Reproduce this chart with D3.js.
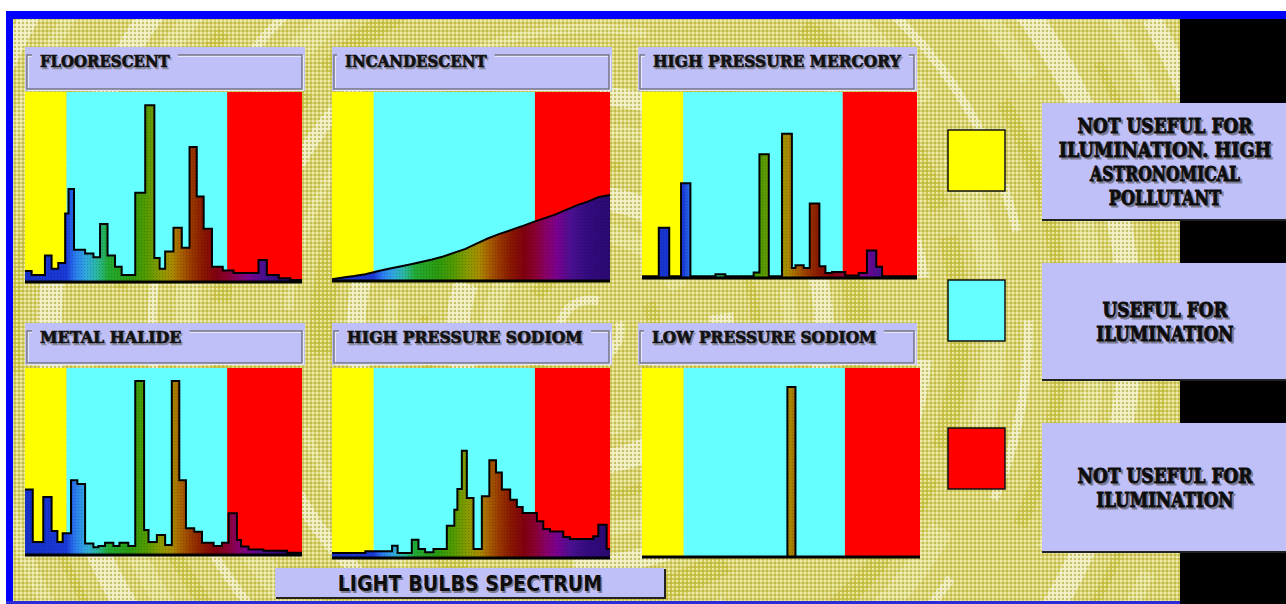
<!DOCTYPE html>
<html>
<head>
<meta charset="utf-8">
<script src="https://cdn.jsdelivr.net/npm/d3@7"></script>
<style>
  html, body { margin: 0; padding: 0; background: #ffffff; overflow: hidden; }
  svg { display: block; }
</style>
</head>
<body>
<svg id="chart" width="1286" height="604"></svg>
<script>
// ---------------- DATA ----------------
const lampNames = ["FLOORESCENT", "INCANDESCENT", "HIGH PRESSURE MERCORY",
                   "METAL HALIDE", "HIGH PRESSURE SODIOM", "LOW PRESSURE SODIOM"];

// spectral bands (position across the visible range, %)
const bandEdges  = [0, 15, 73, 100];
const bandColors = ["#ffff00", "#66ffff", "#ff0000"];

// legend
const legendColors = ["#ffff00", "#66ffff", "#ff0000"];
const legendLines = [
  ["NOT USEFUL FOR", "ILUMINATION. HIGH", "ASTRONOMICAL", "POLLUTANT"],
  ["USEFUL FOR", "ILUMINATION"],
  ["NOT USEFUL FOR", "ILUMINATION"]
];
const chartTitle = "LIGHT BULBS SPECTRUM";

// spectra: step start positions (%) and relative intensity (%)
const fluorescentX = [0, 2.4, 7.2, 9.6, 12.0, 14.5, 15.7, 17.7, 21.7, 24.7, 27.1, 29.8, 32.5, 34.9, 39.8, 43.4,
                      46.7, 48.6, 50.6, 53.6, 56.6, 59.4, 62.0, 64.5, 67.5, 71.4, 75.3, 84.3, 87.3, 91.6, 95.8];
const fluorescentY = [5.8, 3.7, 14, 7, 10, 36, 49, 17, 15, 13, 30.5, 14, 8, 3.7, 47, 93,
                      12.6, 7, 16, 28.5, 18, 71, 45, 28, 8, 6, 4.7, 11.6, 3.7, 2, 1];

const incandescentX = [0, 4, 8, 12, 16, 20, 24, 28, 32, 36, 40, 44, 48, 52, 56, 60, 64, 68, 72, 76, 80, 84, 88, 92, 96, 100];
const incandescentY = [0.9, 1.8, 2.6, 3.6, 5.0, 6.3, 7.5, 8.7, 10.0, 11.4, 13.0, 15.0, 17.0, 19.8, 22.5, 24.8,
                       26.8, 28.8, 31.0, 33.0, 35.0, 37.5, 40.0, 42.0, 44.5, 45.5];

const mercuryX = [0, 6.1, 9.9, 14.2, 17.6, 26.7, 30.3, 40.6, 42.7, 46.1, 50.9, 54.5, 55.8, 58.8, 61.0, 64.5,
                  66.7, 69.1, 73.9, 78.8, 81.8, 85.2, 87.3];
const mercuryY = [1, 27, 1, 51, 1, 2, 1, 3, 66.5, 1, 77.5, 5.4, 6.8, 5.4, 40, 6.3,
                  2.7, 3.2, 1.4, 2.7, 14.8, 6, 1];

const halideX = [0, 2.8, 6.6, 9.6, 11.7, 13.6, 16.6, 18.9, 21.7, 24.7, 26.5, 28.9, 31.9, 34.1, 37.3, 39.8,
                 43.0, 44.6, 47.6, 50.6, 53.0, 55.7, 58.1, 61.1, 63.9, 68.1, 71.1, 73.5, 76.5, 78.0, 80.7, 86.1, 94.6];
const halideY = [35, 7, 31, 12.8, 7, 11.6, 40, 38, 6.2, 4.1, 4.8, 6.6, 4.8, 6.6, 4.8, 93,
                 13.4, 7, 10.7, 5.3, 93, 40, 14.3, 12.5, 6.6, 4.8, 6.6, 22.3, 8, 4.5, 3, 2.3, 1.2];

const hpsX = [0, 12.0, 21.6, 23.6, 28.7, 31.1, 33.5, 36.5, 41.3, 44.0, 45.1, 46.7, 48.5, 50.9, 53.9, 56.6,
              59.0, 61.1, 64.1, 66.5, 68.6, 73.7, 76.0, 78.4, 83.2, 85.6, 94.0, 95.8, 98.8];
const hpsY = [2.6, 3.5, 6.5, 2.6, 9.6, 4.7, 3, 4.7, 17, 25.4, 36.3, 56.5, 31.6, 4.7, 32.5, 51.4,
              45, 36, 30.7, 26.8, 23.7, 19.3, 15.3, 14, 11, 10, 11.4, 17.5, 4.7];

const lpsX = [0, 52.3, 55.2];
const lpsY = [0, 90, 0];

const seriesX = [fluorescentX, incandescentX, mercuryX, halideX, hpsX, lpsX];
const seriesY = [fluorescentY, incandescentY, mercuryY, halideY, hpsY, lpsY];
const seriesSmooth = [false, true, false, false, false, false];

// rainbow used to fill the spectra (offset %, colour)
const rainbowStops = [
  [0, "#1530c8"], [15, "#1a3ad8"], [18, "#2a7af0"], [22, "#30a8e0"], [26, "#2ab8a0"],
  [30, "#22aa33"], [38, "#2a9a10"], [44, "#559a00"], [49, "#8a9a00"], [53, "#a88a00"],
  [56, "#a86400"], [60, "#993a00"], [64, "#8a1a00"], [69, "#800010"], [73, "#8a0030"],
  [77, "#880068"], [81, "#7a0090"], [86, "#4a1090"], [92, "#330a80"], [100, "#2a0a70"]
];

// ---------------- LAYOUT ----------------
const W = 1286, H = 604;
const plots = [
  {x: 25,  y: 92,  w: 277, h: 190},
  {x: 332, y: 92,  w: 278, h: 189},
  {x: 642, y: 92,  w: 275, h: 186},
  {x: 25,  y: 368, w: 277, h: 187},
  {x: 332, y: 368, w: 278, h: 190},
  {x: 642, y: 368, w: 278, h: 189}
];
const headers = [
  {x: 25,  y: 47,  w: 280, h: 44, tx: 40},
  {x: 332, y: 47,  w: 280, h: 44, tx: 345},
  {x: 638, y: 47,  w: 279, h: 44, tx: 653},
  {x: 25,  y: 323, w: 280, h: 42, tx: 40},
  {x: 332, y: 323, w: 280, h: 42, tx: 347},
  {x: 638, y: 323, w: 279, h: 42, tx: 652}
];
const legendBoxes = [{y: 103, h: 117}, {y: 263, h: 117}, {y: 423, h: 129}];
const legendSquares = [130, 280, 428];
const blackBlocks = [{y: 19, h: 84}, {y: 220, h: 43}, {y: 380, h: 43}, {y: 552, h: 52}];

const LAV = "#c0c0f8";

const svg = d3.select("#chart");
const defs = svg.append("defs");

// draw a text squeezed horizontally to a target width (via transform, so its box is exact)
function fittedText(parent, str, x, y, target, anchor, font, size, fill, strokeW) {
  const t = parent.append("text")
    .attr("font-family", font).attr("font-weight", "bold").attr("font-size", size)
    .attr("text-anchor", anchor).attr("fill", fill)
    .attr("stroke", strokeW ? fill : null).attr("stroke-width", strokeW || null)
    .text(str);
  const nat = t.node().getComputedTextLength() || target;
  const s = Math.min(1, target / nat);
  t.attr("transform", `translate(${x},${y}) scale(${s},1)`);
  return t;
}

// dotted texture for the background
const pat = defs.append("pattern").attr("id", "dots").attr("width", 4).attr("height", 4)
  .attr("patternUnits", "userSpaceOnUse");
pat.append("circle").attr("cx", 1).attr("cy", 1).attr("r", 0.9).attr("fill", "#f8f6d0");
pat.append("circle").attr("cx", 3).attr("cy", 3).attr("r", 0.9).attr("fill", "#b8b038");

const pat2 = defs.append("pattern").attr("id", "fine").attr("width", 3).attr("height", 3)
  .attr("patternUnits", "userSpaceOnUse");
pat2.append("rect").attr("x", 0).attr("y", 0).attr("width", 1).attr("height", 1).attr("fill", "#000").attr("opacity", 0.18);

const clip = defs.append("clipPath").attr("id", "bgclip");
clip.append("rect").attr("x", 13).attr("y", 19).attr("width", W - 13).attr("height", H - 19 - 3);

// ---------------- BACKGROUND ----------------
svg.append("rect").attr("width", W).attr("height", H).attr("fill", "#ffffff");
const bg = svg.append("g").attr("clip-path", "url(#bgclip)");
bg.append("rect").attr("x", 13).attr("y", 19).attr("width", W - 13).attr("height", H - 19)
  .attr("fill", "#d8d270");
// swirl rings
const ringRadii = d3.range(30, 900, 34);
bg.selectAll("circle.ring").data(ringRadii).join("circle")
  .attr("class", "ring")
  .attr("cx", 590).attr("cy", 330)
  .attr("r", d => d)
  .attr("fill", "none")
  .attr("stroke", (d, i) => i % 3 === 0 ? "#f7f5e2" : (i % 3 === 1 ? "#cbc240" : "#e6e29c"))
  .attr("stroke-width", (d, i) => 9 + (i % 4) * 5)
  .attr("stroke-dasharray", (d, i) => `${60 + i * 17} ${30 + (i % 5) * 30}`)
  .attr("stroke-dashoffset", (d, i) => i * 37)
  .attr("opacity", 0.7);
bg.append("rect").attr("x", 13).attr("y", 19).attr("width", W - 13).attr("height", H - 19)
  .attr("fill", "url(#dots)");

// blue frame
svg.append("rect").attr("x", 6).attr("y", 11).attr("width", W - 6).attr("height", 8).attr("fill", "#0000ff");
svg.append("rect").attr("x", 6).attr("y", 11).attr("width", 7).attr("height", H - 11).attr("fill", "#0000ff");
svg.append("rect").attr("x", 6).attr("y", H - 3).attr("width", W - 6).attr("height", 3).attr("fill", "#2a2ad8");

// black blocks on the right
svg.selectAll("rect.black").data(blackBlocks).join("rect").attr("class", "black")
  .attr("x", 1180).attr("y", d => d.y).attr("width", W - 1180).attr("height", d => d.h)
  .attr("fill", "#000");

// ---------------- PANELS ----------------
lampNames.forEach((name, i) => {
  const p = plots[i], hd = headers[i];
  const g = svg.append("g");

  // header box
  g.append("rect").attr("x", hd.x).attr("y", hd.y).attr("width", hd.w).attr("height", hd.h).attr("fill", LAV);
  // etched group frame
  const fx0 = hd.x + 2, fx1 = hd.x + hd.w - 3, fy0 = hd.y + 8, fy1 = hd.y + hd.h - 2;
  g.append("rect").attr("x", fx0 + 1).attr("y", fy0 + 1).attr("width", fx1 - fx0).attr("height", fy1 - fy0)
    .attr("fill", "none").attr("stroke", "#ffffff").attr("stroke-width", 1.2);
  g.append("rect").attr("x", fx0).attr("y", fy0).attr("width", fx1 - fx0).attr("height", fy1 - fy0)
    .attr("fill", "none").attr("stroke", "#6e6e80").attr("stroke-width", 1.4);
  const tLen = name.length * 11.8;
  g.append("rect").attr("x", hd.tx - 8).attr("y", fy0 - 2).attr("width", tLen + 16).attr("height", 5).attr("fill", LAV);
  // title with shadow
  [["#8a8aa0", 1.5], ["#111111", 0]].forEach(([c, o]) => {
    fittedText(g, name, hd.tx + o, hd.y + 20 + o, tLen, "start",
      "DejaVu Serif, Liberation Serif, serif", 16.5, c, 0.7);
  });

  // scales
  const x = d3.scaleLinear().domain([0, 100]).range([p.x, p.x + p.w]);
  const y = d3.scaleLinear().domain([0, 100]).range([p.y + p.h, p.y]);

  // bands
  const bands = bandColors.map((c, k) => ({c, a: bandEdges[k], b: bandEdges[k + 1]}));
  g.selectAll("rect.band").data(bands).join("rect").attr("class", "band")
    .attr("x", d => x(d.a)).attr("y", y(100)).attr("width", d => x(d.b) - x(d.a))
    .attr("height", y(0) - y(100)).attr("fill", d => d.c);

  // gradient for this panel
  const grad = defs.append("linearGradient").attr("id", "rb" + i)
    .attr("gradientUnits", "userSpaceOnUse")
    .attr("x1", x(0)).attr("x2", x(100)).attr("y1", 0).attr("y2", 0);
  grad.selectAll("stop").data(rainbowStops).join("stop")
    .attr("offset", d => d[0] + "%").attr("stop-color", d => d[1]);

  // spectrum
  const xs = seriesX[i], ys = seriesY[i];
  const pts = xs.map((v, k) => ({x: v, y: ys[k]}));
  if (!seriesSmooth[i]) pts.push({x: 100, y: ys[ys.length - 1]});
  const area = d3.area().x(d => x(d.x)).y0(y(0)).y1(d => y(d.y))
    .curve(seriesSmooth[i] ? d3.curveLinear : d3.curveStepAfter);
  g.append("path").datum(pts).attr("d", area).attr("fill", "url(#rb" + i + ")");
  g.append("path").datum(pts).attr("d", area).attr("fill", "url(#fine)");
  const line = d3.line().x(d => x(d.x)).y(d => y(d.y))
    .curve(seriesSmooth[i] ? d3.curveLinear : d3.curveStepAfter);
  g.append("path").datum(pts).attr("d", line).attr("fill", "none")
    .attr("stroke", "#000").attr("stroke-width", 2).attr("stroke-linejoin", "miter");
  // baseline
  g.append("line").attr("x1", x(0)).attr("x2", x(100)).attr("y1", y(0)).attr("y2", y(0))
    .attr("stroke", "#000").attr("stroke-width", 3);
});

// ---------------- LEGEND ----------------
svg.selectAll("rect.lsq").data(legendColors).join("rect").attr("class", "lsq")
  .attr("x", 948).attr("y", (d, k) => legendSquares[k]).attr("width", 57).attr("height", 61)
  .attr("fill", d => d).attr("stroke", "#111").attr("stroke-width", 1.5);

legendLines.forEach((lines, k) => {
  const b = legendBoxes[k];
  svg.append("rect").attr("x", 1042).attr("y", b.y).attr("width", W - 1042).attr("height", b.h).attr("fill", LAV);
  svg.append("line").attr("x1", 1042).attr("x2", W).attr("y1", b.y + b.h).attr("y2", b.y + b.h)
    .attr("stroke", "#222").attr("stroke-width", 2);
  const cy = b.y + b.h / 2;
  const sp = 24;
  lines.forEach((t, j) => {
    const by = cy - (lines.length - 1) / 2 * sp + j * sp + 7.5;
    [["#7a7a90", 2], ["#0d0d0d", 0]].forEach(([c, o]) => {
      fittedText(svg, t, 1165 + o, by + o, t.length * 12.5, "middle",
        "DejaVu Serif, Liberation Serif, serif", 20, c, 0.9);
    });
  });
});

// ---------------- TITLE ----------------
svg.append("rect").attr("x", 276).attr("y", 569).attr("width", 390).attr("height", 30).attr("fill", "#222");
svg.append("rect").attr("x", 275).attr("y", 568).attr("width", 389).attr("height", 29).attr("fill", LAV);
[["#7a7a90", 1.5], ["#0d0d0d", 0]].forEach(([c, o]) => {
  fittedText(svg, chartTitle, 470 + o, 591 + o, 265, "middle",
    "DejaVu Sans, Liberation Sans, sans-serif", 20.5, c, 0);
});
</script>
</body>
</html>
